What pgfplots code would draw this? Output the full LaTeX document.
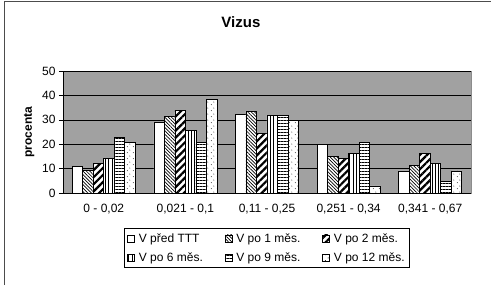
\documentclass[border=0pt]{standalone}
\usepackage{fontspec}
\setmainfont{Liberation Sans}
\usepackage{pgfplots}
\pgfplotsset{compat=1.18}
\usetikzlibrary{patterns,patterns.meta}
\pgfdeclarepatternformonly{sparsedots}{\pgfpointorigin}{\pgfpoint{6pt}{6pt}}{\pgfpoint{6pt}{6pt}}{%
  \pgfpathcircle{\pgfpoint{1.5pt}{1.5pt}}{0.55pt}%
  \pgfpathcircle{\pgfpoint{4.5pt}{4.5pt}}{0.55pt}%
  \pgfusepath{fill}}
\begin{document}
\begin{tikzpicture}
\useasboundingbox (0pt,0pt) rectangle (491pt,285pt);
\draw[black!70, line width=0.9pt] (4pt,0pt) -- (4pt,283.5pt) -- (491pt,283.5pt);
\begin{axis}[
  at={(63pt,92pt)}, anchor=south west,
  scale only axis, width=408pt, height=122pt,
  xmin=-0.5, xmax=4.5, ymin=0, ymax=50,
  ybar=0pt, bar width=10.5pt,
  axis background/.style={fill=black!37, draw=black!45},
  axis x line*=bottom, axis y line*=left,
  axis line style={black, line width=0.6pt, -},
  xtick={0,1,2,3,4},
  xticklabels={{0 - 0,02},{0,021 - 0,1},{0,11 - 0,25},{0,251 - 0,34},{0,341 - 0,67}},
  x tick style={draw=none},
  minor xtick={-0.5,0.5,1.5,2.5,3.5,4.5},
  minor x tick style={black, line width=0.6pt},
  minor tick length=5pt,
  ytick={0,10,20,30,40,50},
  y tick style={black, line width=0.6pt},
  major tick length=4pt,
  tick align=outside,
  ymajorgrids, grid style={black, line width=0.6pt},
  /pgf/number format/assume math mode=true,
  ticklabel style={font=\fontsize{12}{14}\selectfont},
  xticklabel style={yshift=-4pt},
  ylabel={procenta},
  ylabel style={font=\fontsize{12}{14}\selectfont\bfseries, at={(axis description cs:-0.083,0.5)}, anchor=center},
  title={Vizus},
  title style={font=\fontsize{15}{18}\selectfont\bfseries, at={(axis description cs:0.436,1.352)}, anchor=center},
  legend columns=3,
  legend cell align=left,
  legend style={at={(axis description cs:0.5,-0.287)}, anchor=north, draw=black, line width=0.6pt,
    font=\fontsize{12}{13}\selectfont, inner xsep=3pt, inner ysep=3pt, row sep=5pt,
    /tikz/every odd column/.append style={column sep=2pt},
    /tikz/every even column/.append style={column sep=20pt}},
  legend image code/.code={\draw[#1, line width=0.5pt] (0pt,-3.5pt) rectangle (7pt,3.5pt);},
]
\addplot[draw=black, line width=0.6pt, fill=white] coordinates {(0,10.9) (1,28.9) (2,32.3) (3,19.9) (4,9.1)};
\addlegendentry{V před TTT}
\addplot[draw=black, line width=0.6pt, fill=white, postaction={pattern={Lines[angle=-45,distance=2.4pt,line width=0.7pt]}}] coordinates {(0,9.3) (1,31.5) (2,33.6) (3,14.9) (4,11.3)};
\addlegendentry{V po 1 měs.}
\addplot[draw=black, line width=0.6pt, fill=white, postaction={pattern={Lines[angle=45,distance=5pt,line width=2.2pt]}}] coordinates {(0,12.0) (1,34.0) (2,24.4) (3,14.1) (4,16.2)};
\addlegendentry{V po 2 měs.}
\addplot[draw=black, line width=0.6pt, fill=white, postaction={pattern={Lines[angle=90,distance=3.3pt,line width=0.8pt]}}] coordinates {(0,14.1) (1,25.8) (2,31.8) (3,16.2) (4,12.0)};
\addlegendentry{V po 6 měs.}
\addplot[draw=black, line width=0.6pt, fill=white, postaction={pattern={Lines[angle=0,distance=3pt,line width=0.8pt]}}] coordinates {(0,22.8) (1,20.7) (2,31.8) (3,20.9) (4,4.7)};
\addlegendentry{V po 9 měs.}
\addplot[draw=black, line width=0.6pt, fill=white, postaction={pattern=sparsedots}] coordinates {(0,20.7) (1,38.4) (2,29.6) (3,2.9) (4,9.1)};
\addlegendentry{V po 12 měs.}
\end{axis}
\end{tikzpicture}
\end{document}
